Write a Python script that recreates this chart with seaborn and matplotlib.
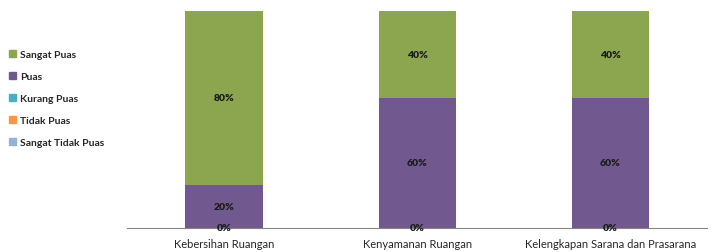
import pandas as pd
import numpy as np
import matplotlib
matplotlib.use("Agg")
import matplotlib.pyplot as plt
import matplotlib.patches as mpatches
import seaborn as sns

kategori = ["Kebersihan Ruangan", "Kenyamanan Ruangan", "Kelengkapan Sarana dan Prasarana"]
tingkat = ["Sangat Tidak Puas", "Tidak Puas", "Kurang Puas", "Puas", "Sangat Puas"]
sangat_tidak_puas = [0, 0, 0]
tidak_puas = [0, 0, 0]
kurang_puas = [0, 0, 0]
puas = [20, 60, 60]
sangat_puas = [80, 40, 40]
warna = ["#95B3D7", "#F79646", "#4BACC6", "#71588F", "#8BA64E"]

sns.set_style("white")
plt.rcParams['font.family'] = ['Lato', 'DejaVu Sans']

nilai = [sangat_tidak_puas, tidak_puas, kurang_puas, puas, sangat_puas]
kumulatif = np.cumsum(np.array(nilai), axis=0)

fig = plt.figure(figsize=(7.15, 2.53), dpi=100)
ax = fig.add_axes([0.178, 0.095, 0.811, 0.858])

# stacked bars: draw cumulative totals from top layer down
for i in range(len(tingkat) - 1, -1, -1):
    df = pd.DataFrame({"kategori": kategori, "nilai": kumulatif[i]})
    sns.barplot(data=df, x="kategori", y="nilai", color=warna[i], width=0.4,
                saturation=1, ax=ax, order=kategori, linewidth=0)

# only one label per position (zero segments overlap at the base)
for j in range(len(kategori)):
    sudah = set()
    for i in range(len(tingkat)):
        y = kumulatif[i][j] - nilai[i][j] / 2
        if y in sudah:
            continue
        sudah.add(y)
        ax.text(j, y, f"{nilai[i][j]}%", ha="center", va="center",
                fontsize=7.5, fontweight="heavy", color="#1a1a1a")

ax.set_xlim(-0.5, 2.5)
ax.set_ylim(0, 100)
ax.set_xlabel("")
ax.set_ylabel("")
ax.set_yticks([])
for s in ["top", "right", "left"]:
    ax.spines[s].set_visible(False)
ax.spines["bottom"].set_color("#868686")
ax.spines["bottom"].set_linewidth(0.8)
ax.tick_params(axis="x", length=0, pad=7, labelsize=8, colors="#262626")

handles = [mpatches.Patch(color=warna[i], label=tingkat[i]) for i in range(len(tingkat) - 1, -1, -1)]
leg = fig.legend(handles=handles, loc="upper left", bbox_to_anchor=(0.0, 0.836),
                 frameon=False, handlelength=0.6, handleheight=0.6, handletextpad=0.4,
                 labelspacing=1.25, prop={"size": 7.5, "weight": "bold"})

fig.savefig("out.png", dpi=100)
